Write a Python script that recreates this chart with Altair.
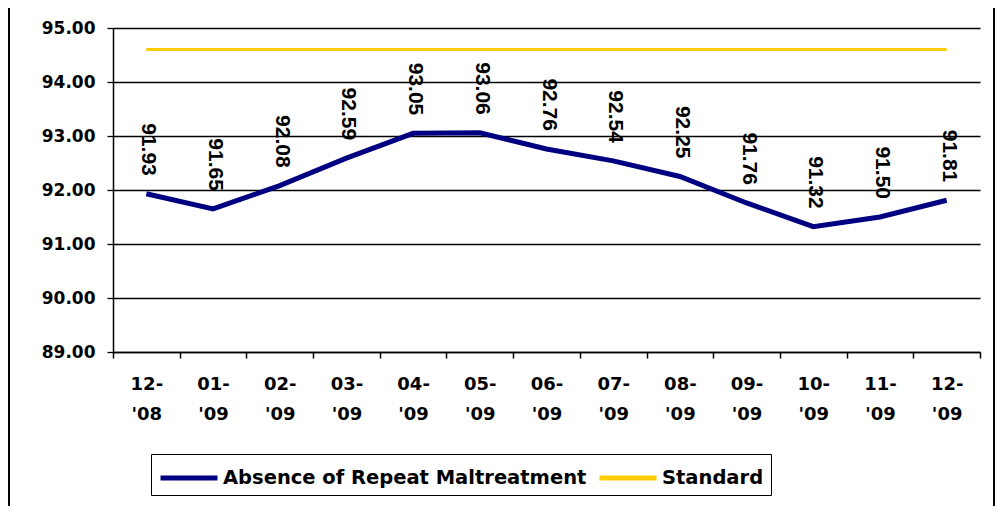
import altair as alt
import pandas as pd

months = ["12-'08", "01-'09", "02-'09", "03-'09", "04-'09", "05-'09", "06-'09",
          "07-'09", "08-'09", "09-'09", "10-'09", "11-'09", "12-'09"]
absence_values = [91.93, 91.65, 92.08, 92.59, 93.05, 93.06, 92.76,
                  92.54, 92.25, 91.76, 91.32, 91.50, 91.81]
standard_values = [94.6] * 13
series_names = ["Absence of Repeat Maltreatment", "Standard"]
y_ticks = [89, 90, 91, 92, 93, 94, 95]

df_main = pd.DataFrame({"month": months, "value": absence_values, "series": series_names[0]})
df_std = pd.DataFrame({"month": months, "value": standard_values, "series": series_names[1]})

x_enc = alt.X(
    "month:N", sort=months,
    scale=alt.Scale(type="band", paddingInner=0, paddingOuter=0),
    axis=alt.Axis(
        title=None, labelAngle=0, tickBand="extent", grid=False,
        labelExpr="[slice(datum.label, 0, 3), slice(datum.label, 3)]",
        labelLineHeight=30, labelFontSize=18, labelPadding=17, tickSize=6,
        labelFont="DejaVu Sans", labelFontWeight="bold", labelColor="black",
        domainColor="black", tickColor="black", domainWidth=1.5, tickWidth=1.5,
    ),
)
y_enc = alt.Y(
    "value:Q",
    scale=alt.Scale(domain=[89, 95], nice=False, zero=False),
    axis=alt.Axis(
        title=None, values=y_ticks, format=".2f", grid=True, gridColor="black",
        gridWidth=1.3, gridOpacity=1, tickSize=6, labelPadding=12, labelFontSize=17,
        labelFont="DejaVu Sans", labelFontWeight="bold", labelColor="black",
        domainColor="black", tickColor="black", domainWidth=1.5, tickWidth=1.3,
    ),
)
color_enc = alt.Color(
    "series:N",
    scale=alt.Scale(domain=series_names, range=["#000080", "#FFCC00"]),
    sort=series_names,
    legend=alt.Legend(
        orient="none", legendX=38, legendY=426, direction="horizontal", title=None,
        symbolType="M-1,0H2.93", symbolSize=841, symbolStrokeWidth=5,
        labelFont="DejaVu Sans", labelFontWeight="bold", labelFontSize=19.5,
        labelColor="black", strokeColor="black", fillColor="white",
        padding=7, columnPadding=2, labelOffset=31, labelLimit=500,
    ),
)

std_line = alt.Chart(df_std).mark_line(strokeWidth=3).encode(x=x_enc, y=y_enc, color=color_enc)
main_line = alt.Chart(df_main).mark_line(strokeWidth=5).encode(x=x_enc, y=y_enc, color=color_enc)
labels = alt.Chart(df_main).mark_text(
    angle=90, align="right", baseline="middle", dx=-18, dy=-2,
    font="Liberation Sans", fontWeight="bold", fontSize=21, color="black",
).encode(x=x_enc, y=y_enc, text=alt.Text("value:Q", format=".2f"))

frame_left = alt.Chart(df_main).mark_rule(color="black", strokeWidth=1.2).encode(
    x=alt.value(-104), y=alt.value(-60), y2=alt.value(560))
frame_right = alt.Chart(df_main).mark_rule(color="black", strokeWidth=1.2).encode(
    x=alt.value(881), y=alt.value(-60), y2=alt.value(560))

chart = alt.layer(std_line, main_line, labels, frame_left, frame_right).properties(
    width=867, height=324,
    autosize=alt.AutoSizeParams(type="none"),
    padding={"left": 105, "top": 20, "right": 15, "bottom": 154},
).configure_view(stroke=None)

chart.save("out.html", embed_options={"renderer": "svg", "actions": False})
